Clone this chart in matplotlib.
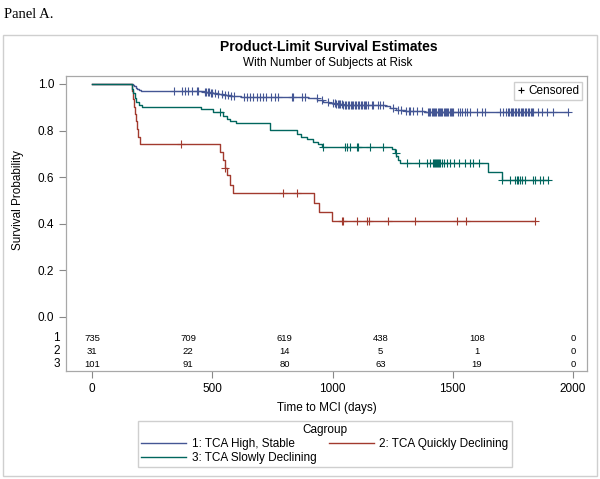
import numpy as np
import matplotlib
matplotlib.use('Agg')
import matplotlib.pyplot as plt
from matplotlib.lines import Line2D
from matplotlib.patches import Rectangle

plt.rcParams['font.family'] = ['Liberation Sans', 'DejaVu Sans']

# --- data ------------------------------------------------------------------
group_names = ['1: TCA High, Stable', '2: TCA Quickly Declining', '3: TCA Slowly Declining']
group_colors = ['#445694', '#A23A2E', '#01665E']

# group 1: TCA High, Stable
g1_event_times = [170, 176, 182, 188, 196, 205, 465, 490, 520, 545, 575, 620, 790,
                  900, 935, 960, 985, 1010, 1040, 1220, 1240, 1265, 1300, 1380]
g1_event_surv = [0.995, 0.989, 0.983, 0.978, 0.974, 0.971, 0.967, 0.963, 0.957, 0.952,
                 0.948, 0.946, 0.943, 0.938, 0.931, 0.924, 0.918, 0.914, 0.910, 0.904,
                 0.897, 0.889, 0.883, 0.878]
g1_end = 1979
g1_censored = [341, 373, 387, 400, 415, 435, 440, 470, 476, 482, 488, 494, 500, 510,
               525, 540, 555, 565, 580, 590, 630, 645, 658, 670, 685, 700, 712, 725,
               745, 760, 775, 830, 836, 872, 886, 934, 955, 981,
               1003, 1009, 1015, 1021, 1027, 1033, 1039, 1045, 1051, 1057, 1063, 1069,
               1075, 1081, 1087, 1093, 1099, 1105, 1111, 1117, 1123, 1129, 1135, 1141,
               1148, 1164, 1168, 1189, 1198, 1210, 1252, 1272, 1285, 1305, 1318, 1323,
               1336, 1350, 1372, 1397, 1402, 1407, 1412, 1417, 1422, 1427, 1432, 1437,
               1442, 1447, 1452, 1457, 1462, 1467, 1472, 1477, 1482, 1487, 1492, 1497,
               1501, 1520, 1530, 1540, 1550, 1560, 1572, 1600, 1620, 1634, 1696, 1710,
               1722, 1728, 1734, 1740, 1746, 1752, 1758, 1764, 1770, 1776, 1782, 1788,
               1794, 1800, 1806, 1812, 1818, 1824, 1830, 1834, 1855, 1870, 1890, 1917,
               1979]

# group 2: TCA Quickly Declining
g2_event_times = [167, 170, 174, 178, 182, 186, 192, 198, 532, 545, 553, 560, 575,
                  588, 925, 945, 997]
g2_event_surv = [0.968, 0.935, 0.903, 0.871, 0.839, 0.806, 0.774, 0.742, 0.709, 0.675,
                 0.641, 0.607, 0.565, 0.531, 0.490, 0.452, 0.412]
g2_end = 1842
g2_censored = [370, 553, 793, 854, 1038, 1045, 1100, 1142, 1151, 1229, 1343, 1516,
               1554, 1842]

# group 3: TCA Slowly Declining
g3_event_times = [168, 172, 178, 185, 195, 210, 455, 505, 545, 560, 575, 600, 740,
                  851, 870, 893, 920, 940, 958, 1246, 1258, 1265, 1272, 1282, 1647, 1703]
g3_event_surv = [0.980, 0.960, 0.941, 0.921, 0.911, 0.901, 0.891, 0.881, 0.861, 0.851,
                 0.841, 0.831, 0.803, 0.785, 0.774, 0.763, 0.752, 0.742, 0.731, 0.719,
                 0.705, 0.690, 0.675, 0.660, 0.624, 0.588]
g3_end = 1897
g3_censored = [532, 961, 1052, 1060, 1073, 1102, 1106, 1156, 1210, 1264, 1311, 1358,
               1391, 1405, 1416, 1422, 1426, 1430, 1434, 1438, 1442, 1447, 1454, 1465,
               1475, 1489, 1503, 1524, 1552, 1573, 1586, 1607, 1703, 1738, 1759, 1766,
               1773, 1780, 1787, 1801, 1835, 1842, 1863, 1877, 1897]

# number at risk table
risk_times = [0, 400, 800, 1200, 1600, 2000]
g1_at_risk = [735, 709, 619, 438, 108, 0]
g2_at_risk = [31, 22, 14, 5, 1, 0]
g3_at_risk = [101, 91, 80, 63, 19, 0]

groups = [
    (g1_event_times, g1_event_surv, g1_end, g1_censored),
    (g2_event_times, g2_event_surv, g2_end, g2_censored),
    (g3_event_times, g3_event_surv, g3_end, g3_censored),
]
at_risk = [g1_at_risk, g2_at_risk, g3_at_risk]

# --- figure ------------------------------------------------------------------
W, H = 600, 479
fig = plt.figure(figsize=(W / 100, H / 100), dpi=100)
fig.patch.set_facecolor('white')

def fx(px):
    return px / W

def fy(py):
    return 1 - py / H

# outer gray border of the SAS graph
fig.add_artist(Rectangle((fx(3), fy(476)), fx(594), 441 / H, transform=fig.transFigure,
                         fill=False, edgecolor='#cfcfcf', linewidth=1.0))

fig.text(fx(4), fy(14), 'Panel A.', family=['Liberation Serif', 'DejaVu Serif'],
         fontsize=10.5, va='center', ha='left')

fig.text(fx(329), fy(47), 'Product-Limit Survival Estimates', fontsize=10,
         fontweight='bold', ha='center', va='center')
fig.text(fx(328), fy(63), 'With Number of Subjects at Risk', fontsize=8.5,
         ha='center', va='center')

ax = fig.add_axes([fx(66), fy(371), fx(587) - fx(66), fy(76) - fy(371)])
ax.set_xlim(-108, 2058)
ax.set_ylim(-0.232, 1.034)

handles = []
for (times, surv, end, cens), color, name in zip(groups, group_colors, group_names):
    t = np.array([0] + times + [end], dtype=float)
    s = np.array([1.0] + surv + [surv[-1]])
    line, = ax.step(t, s, where='post', color=color, linewidth=1.0, label=name)
    handles.append(line)
    # censor marks sit on the curve at their time
    idx = np.searchsorted(t, cens, side='right') - 1
    ax.plot(cens, s[idx], linestyle='none', marker='+', markersize=5.5,
            markeredgewidth=0.8, color=color)

# at-risk table inside the plot frame
row_y = [-0.092, -0.148, -0.204]
for counts, yy in zip(at_risk, row_y):
    for xx, n in zip(risk_times, counts):
        ax.text(xx, yy, str(n), fontsize=6.8, ha='center', va='center')
for k, yy in enumerate(row_y):
    ax.text(-0.012, yy, str(k + 1), transform=ax.get_yaxis_transform(),
            fontsize=8.5, ha='right', va='center')

ax.set_yticks([0.0, 0.2, 0.4, 0.6, 0.8, 1.0])
ax.set_yticklabels(['0.0', '0.2', '0.4', '0.6', '0.8', '1.0'])
ax.set_xticks([0, 500, 1000, 1500, 2000])
ax.tick_params(axis='both', colors='#888888', labelcolor='black', labelsize=8.5,
               length=5, width=0.8, direction='out')
for sp in ax.spines.values():
    sp.set_color('#a8a8a8')
    sp.set_linewidth(0.9)

fig.text(fx(327), fy(408), 'Time to MCI (days)', fontsize=8.5, ha='center', va='center')
fig.text(fx(18), fy(200), 'Survival Probability', fontsize=8.5, ha='center',
         va='center', rotation=90)

# censored key in the top right corner
cens_handle = Line2D([], [], linestyle='none', marker='+', markersize=5,
                     markeredgewidth=0.8, color='black')
ax.legend([cens_handle], ['Censored'], loc='upper right', fontsize=8.5,
          handlelength=0.6, handletextpad=0.3, borderpad=0.25, borderaxespad=0,
          fancybox=False, edgecolor='#cfcfcf', framealpha=1,
          bbox_to_anchor=(1 - 5 / 521, 1 - 6 / 295))

# group legend below the axis
leg = fig.legend([handles[0], handles[2], handles[1]],
                 [group_names[0], group_names[2], group_names[1]],
                 title='Cagroup', ncol=2, loc='center', fontsize=8.5,
                 title_fontsize=8.5, bbox_to_anchor=(fx(325), fy(444)),
                 handlelength=3.8, handletextpad=0.5, columnspacing=1.0,
                 labelspacing=0.15, borderpad=0.3, fancybox=False,
                 edgecolor='#cfcfcf', framealpha=1)

fig.savefig('out.png', dpi=100)
